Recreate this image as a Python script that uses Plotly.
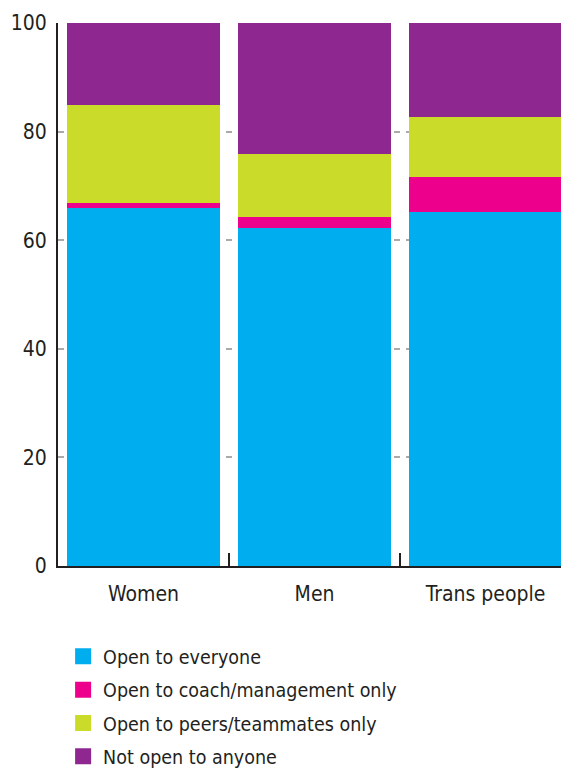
import plotly.graph_objects as go

groups = ["Women", "Men", "Trans people"]
series = ["Open to everyone", "Open to coach/management only",
          "Open to peers/teammates only", "Not open to anyone"]
everyone = [66.0, 62.3, 65.2]
coach = [0.9, 2.0, 6.5]
peers = [18.0, 11.6, 10.9]
nobody = [15.1, 24.1, 17.4]
colours = ["#00ADEE", "#EC008C", "#CBDB2A", "#8E278F"]

FONT = "DejaVu Sans Condensed, Roboto, sans-serif"

fig = go.Figure()
for name, vals, col in zip(series, [everyone, coach, peers, nobody], colours):
    fig.add_trace(go.Bar(x=groups, y=vals, name=name, marker_color=col,
                         marker_line_width=0, showlegend=False))
    # legend swatch
    fig.add_trace(go.Scatter(x=[None], y=[None], mode="markers", name=name,
                             legendgroup=name,
                             marker=dict(symbol="square", size=18, color=col)))

# page body has an 8px margin, so offsets are compensated here
fig.update_layout(
    barmode="stack",
    bargap=0.1,
    width=569, height=770,
    margin=dict(l=50, r=8, t=15, b=212, autoexpand=False),
    plot_bgcolor="white", paper_bgcolor="white",
    font=dict(family=FONT, size=21, color="#231f20"),
    legend=dict(x=0.01, xanchor="left", y=-0.131, yanchor="top",
                orientation="v", traceorder="grouped", tracegroupgap=5,
                font=dict(size=19.5), itemwidth=30),
)
fig.update_xaxes(range=[-0.5, 2.488], showline=True, linecolor="#231f20",
                 linewidth=2, showgrid=False, tickson="boundaries",
                 ticks="inside", ticklen=13, tickwidth=2,
                 tickcolor="#231f20", ticklabelstandoff=8, automargin=False)
fig.update_yaxes(range=[0, 100], tickvals=[0, 20, 40, 60, 80, 100],
                 tickfont=dict(size=21),
                 showline=True, linecolor="#231f20", linewidth=2,
                 showgrid=True, gridcolor="#aaaaaa", gridwidth=2,
                 griddash="6px,6px", zeroline=False, ticks="",
                 ticklabelstandoff=5, automargin=False)

fig.write_html("out.html")
